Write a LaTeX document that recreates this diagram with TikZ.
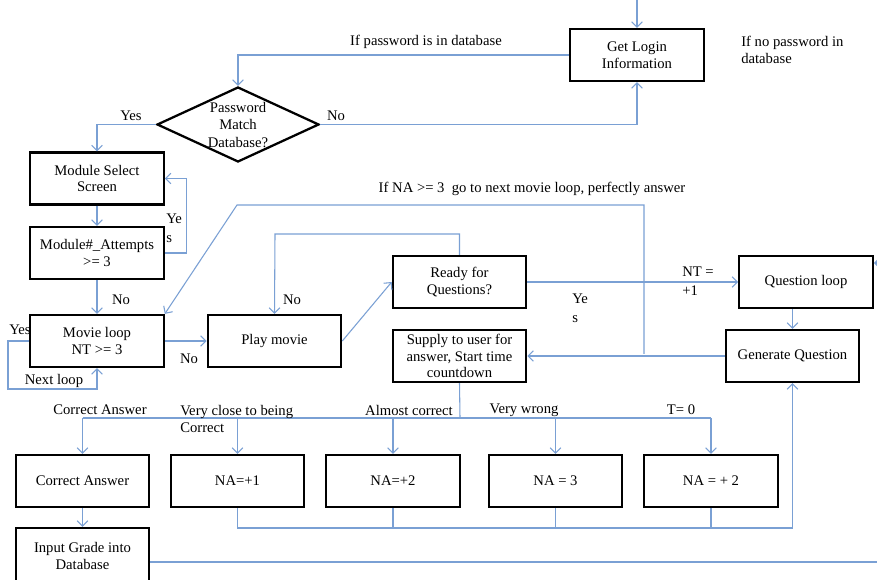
\documentclass[tikz,border=0pt]{standalone}
\usepackage{fontspec}
\setmainfont{Liberation Serif}
\usetikzlibrary{shapes.geometric,arrows.meta}
\definecolor{linkblue}{RGB}{122,160,212}
\begin{document}
\begin{tikzpicture}[x=0.75pt,y=-0.75pt,
  every node/.style={font=\fontsize{11}{12.5}\selectfont},
  box/.style={draw=black, line width=1.7pt, minimum width=100pt, minimum height=39pt, inner sep=1pt, align=center},
  decision/.style={draw=black, line width=1.7pt, diamond, minimum width=121.5pt, minimum height=56.25pt, inner sep=0pt},
  link/.style={draw=linkblue, line width=0.8pt},
  arr/.style={link, -{Straight Barb[length=4pt,width=8pt]}},
  lbl/.style={inner sep=0pt, align=left}
]
\clip (0,0) rectangle (877,580);
\fill[white] (0,0) rectangle (877,580);

% nodes
\node[box] (login) at (637,55) {Get Login\\Information};
\node[decision] (pw) at (238,124.5) {};
\node[align=center, inner sep=0pt, font=\fontsize{11}{13}\selectfont] (pwtext) at (238,125) {Password\\Match\\Database?};
\node[box] (modsel) at (97,178.5) {Module Select\\Screen};
\node[box] (modatt) at (97,253) {Module\#\_Attempts\\>= 3};
\node[box] (movie) at (97,341) {Movie loop\\NT >= 3};
\node[box] (play) at (274.5,341) {Play movie};
\node[box] (ready) at (459.5,282) {Ready for\\Questions?};
\node[box] (supply) at (459.5,356) {Supply to user for\\answer, Start time\\countdown};
\node[box] (qloop) at (806,282) {Question loop};
\node[box] (gen) at (792.5,356) {Generate Question};
\node[box] (correct) at (82.5,481) {Correct Answer};
\node[box] (na1) at (237.5,481) {NA=+1};
\node[box] (na2) at (393,481) {NA=+2};
\node[box] (na3) at (555.5,481) {NA = 3};
\node[box] (na4) at (711,481) {NA = + 2};
\node[box, minimum height=42pt] (input) at (82.5,556) {Input Grade into\\Database};

% coordinates
\coordinate (topin) at (637,0);
\coordinate (ml) at (8,389);
\coordinate (rl) at (275,234);
\coordinate (nastart) at (644,354);
\coordinate (natop) at (644,205);
\coordinate (naleft) at (237,205);
\coordinate (bus) at (460,418);
\coordinate (bb) at (792.5,528);
\coordinate (re) at (877,562);
\coordinate (qr) at (884,263);

% connectors
\draw[arr] (topin) -- (login.north);
\draw[arr] (login.west) -| (pw.north);
\draw[arr] (pw.west) -| (modsel.north);
\draw[arr] (pw.east) -| (login.south);
\draw[arr] (modsel.south) -- (modatt.north);
\draw[arr] (modatt.east) -- ++(22,0) |- (modsel.east);
\draw[arr] (modatt.south) -- (movie.north);
\draw[arr] (movie.west) -| (ml) -| (movie.south);
\draw[arr] (movie.east) -- (play.west);
\draw[arr] (play.east) -- (ready.west);
\draw[arr] (ready.north) |- (rl) -- (play.north);
\draw[arr] (ready.east) -- (qloop.west);
\draw[arr] (gen.north |- qloop.south) -- (gen.north);
\draw[arr] (gen.west) -- (supply.east);
\draw[arr] (nastart) -- (natop) -- (naleft) -- (movie.north east);
\draw[link] (supply.south) -- (bus);
\draw[link] (correct.north |- bus) -- (na4.north |- bus);
\draw[arr] (correct.north |- bus) -- (correct.north);
\draw[arr] (na1.north |- bus) -- (na1.north);
\draw[arr] (na2.north |- bus) -- (na2.north);
\draw[arr] (na3.north |- bus) -- (na3.north);
\draw[arr] (na4.north |- bus) -- (na4.north);
\draw[arr] (na1.south) |- (bb) -- (gen.south);
\draw[link] (na2.south) -- (na2.south |- bb);
\draw[link] (na3.south) -- (na3.south |- bb);
\draw[link] (na4.south) -- (na4.south |- bb);
\draw[arr] (correct.south) -- (input.north);
\draw[link] (input.east |- re) -- (re);
\draw[arr] (qr) -- (qloop.east |- qr);

% labels
\node[lbl] (l1) at (426,42) {If password is in database};
\node[lbl, anchor=west] (l2) at (741,50) {If no password in\\database};
\node[lbl] (l3) at (131,116) {Yes};
\node[lbl] (l4) at (336,116) {No};
\node[lbl, anchor=west, font=\fontsize{11}{14}\selectfont] (l5) at (166,228) {Ye\\s};
\node[lbl] (l6) at (121,300) {No};
\node[lbl] (l7) at (20,330) {Yes};
\node[lbl] (l8) at (54,381) {Next loop};
\node[lbl] (l9) at (189,359) {No};
\node[lbl] (l10) at (292,300) {No};
\node[lbl] (l11) at (532,189) {If NA >= 3\ \ go to next movie loop, perfectly answer};
\node[lbl, anchor=west, font=\fontsize{11}{14}\selectfont] (l12) at (682,281) {NT =\\+1};
\node[lbl, anchor=west, font=\fontsize{11}{14}\selectfont] (l13) at (572,308) {Ye\\s};
\node[lbl] (l14) at (100,410) {Correct Answer};
\node[lbl, anchor=west] (l15) at (180,419) {Very close to being\\Correct};
\node[lbl] (l16) at (409,410) {Almost correct};
\node[lbl] (l17) at (524,410) {Very wrong};
\node[lbl] (l18) at (681,410) {T= 0};
\end{tikzpicture}
\end{document}
